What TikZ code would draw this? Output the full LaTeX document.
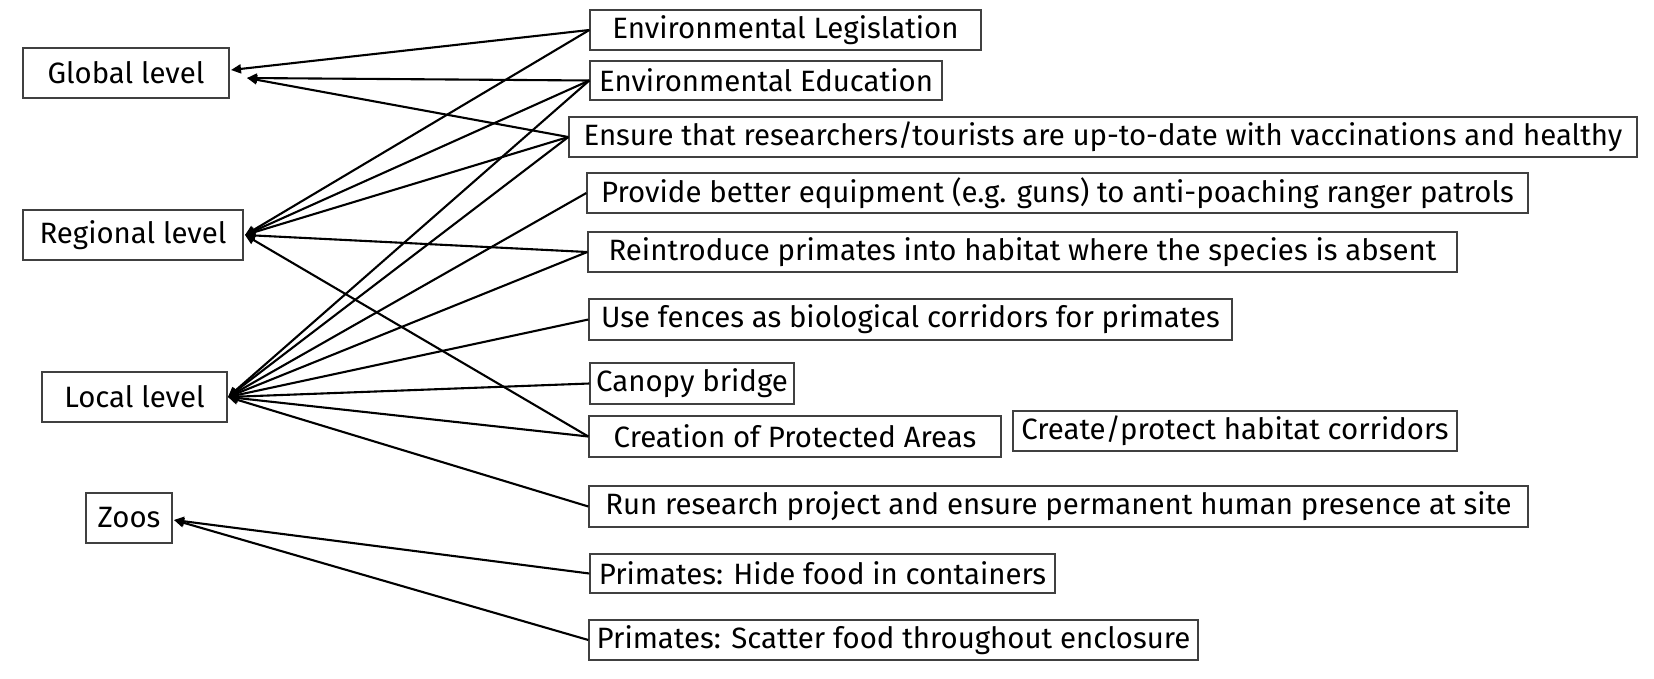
\documentclass[tikz,border=0pt]{standalone}
\usepackage{fontspec}
\setmainfont{Fira Sans}
\usetikzlibrary{arrows.meta}
\definecolor{boxgray}{HTML}{404040}
\begin{document}
\begin{tikzpicture}[x=1pt,y=-1pt,
  box/.style={draw=boxgray, line width=1.3pt, inner sep=0pt, text=black,
    font=\fontsize{29.4}{35}\selectfont},
  link/.style={draw=black, line width=2.1pt, -{Triangle[length=10pt,width=9pt]}}]
\useasboundingbox (0,0) rectangle (1654,678);
% left column
\node[box, minimum width=206pt, minimum height=50pt] (G) at (126,73) {Global level};
\node[box, minimum width=220pt, minimum height=50pt] (R) at (133,235) {Regional level};
\node[box, minimum width=185pt, minimum height=50pt] (L) at (134.5,397) {Local level};
\node[box, minimum width=86pt, minimum height=50pt] (Z) at (129,518) {Zoos};
% right column
\node[box, minimum width=391pt, minimum height=40pt] (EL) at (785.5,30) {Environmental Legislation};
\node[box, minimum width=352pt, minimum height=39pt] (EE) at (766,80.5) {Environmental Education};
\node[box, minimum width=1068pt, minimum height=40pt] (EN) at (1103,137) {Ensure that researchers/tourists are up-to-date with vaccinations and healthy};
\node[box, minimum width=941pt, minimum height=40pt] (PB) at (1057.5,193) {Provide better equipment (e.g. guns) to anti-poaching ranger patrols};
\node[box, minimum width=869pt, minimum height=40pt] (RI) at (1022.5,252) {Reintroduce primates into habitat where the species is absent};
\node[box, minimum width=643pt, minimum height=41pt] (UF) at (910.5,319.5) {Use fences as biological corridors for primates};
\node[box, minimum width=204pt, minimum height=41pt] (CB) at (692,383.5) {Canopy bridge};
\node[box, minimum width=412pt, minimum height=41pt] (CP) at (795,436.5) {Creation of Protected Areas};
\node[box, minimum width=444pt, minimum height=40pt] (CH) at (1235,431) {Create/protect habitat corridors};
\node[box, minimum width=939pt, minimum height=41pt] (RR) at (1058.5,506.5) {Run research project and ensure permanent human presence at site};
\node[box, minimum width=465pt, minimum height=39pt] (HF) at (822.5,573.5) {Primates: Hide food in containers};
\node[box, minimum width=609pt, minimum height=40pt] (SF) at (893.5,640) {Primates: Scatter food throughout enclosure};
% arrow tips
\coordinate (gt1) at (231,70);
\coordinate (gt2) at (247,78);
\coordinate (rt) at (245,235);
\coordinate (lt) at (228,397);
\coordinate (zt) at (174,520);
% connectors
\draw[link] (EL.west) -- (gt1);
\draw[link] (EL.west) -- (rt);
\draw[link] (EE.west) -- (gt2);
\draw[link] (EE.west) -- (rt);
\draw[link] (EE.west) -- (lt);
\draw[link] (EN.west) -- (gt2);
\draw[link] (EN.west) -- (rt);
\draw[link] (EN.west) -- (lt);
\draw[link] (PB.west) -- (lt);
\draw[link] (RI.west) -- (rt);
\draw[link] (RI.west) -- (lt);
\draw[link] (UF.west) -- (lt);
\draw[link] (CB.west) -- (lt);
\draw[link] (CP.west) -- (lt);
\draw[link] (CP.west) -- (rt);
\draw[link] (RR.west) -- (lt);
\draw[link] (HF.west) -- (zt);
\draw[link] (SF.west) -- (zt);
\end{tikzpicture}
\end{document}
